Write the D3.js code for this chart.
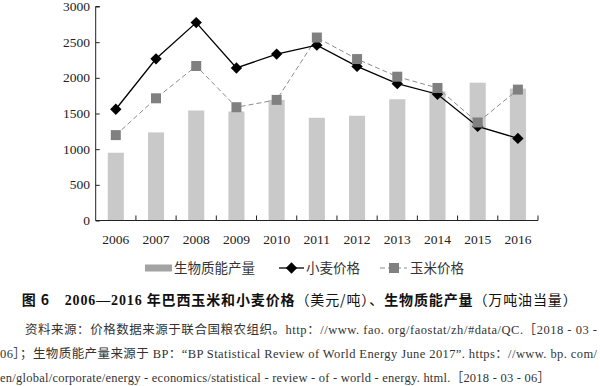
<!DOCTYPE html>
<html>
<head>
<meta charset="utf-8">
<script src="https://cdn.jsdelivr.net/npm/d3@7"></script>
<style>
  body { margin: 0; background: #fff; }
  svg { display: block; }
  .num { font-family: "Liberation Serif", "Noto Sans CJK SC", serif; }
  .cjk { font-family: "Liberation Serif", "Noto Sans CJK SC", sans-serif; }
</style>
</head>
<body>
<div id="chart"></div>
<script>
var years = ["2006", "2007", "2008", "2009", "2010", "2011", "2012", "2013", "2014", "2015", "2016"],
    biomass = [950, 1235, 1542, 1528, 1691, 1440, 1468, 1700, 1811, 1932, 1849],
    wheat = [1560, 2267, 2774, 2138, 2333, 2458, 2160, 1918, 1770, 1319, 1151],
    corn = [1197, 1713, 2166, 1588, 1691, 2565, 2263, 2016, 1858, 1374, 1835],
    yTicks = [0, 500, 1000, 1500, 2000, 2500, 3000],
    legendNames = ["生物质能产量", "小麦价格", "玉米价格"];

var W = 600, H = 386;
var plot = { left: 95.7, right: 538, top: 6.5, bottom: 220.5 };

var svg = d3.select("#chart").append("svg")
    .attr("width", W)
    .attr("height", H);

var x = d3.scaleBand()
    .domain(years)
    .range([plot.left, plot.right])
    .paddingInner(0.6)
    .paddingOuter(0.3);

var y = d3.scaleLinear()
    .domain([0, 3000])
    .range([plot.bottom, plot.top]);

var cx = function(d) { return x(d) + x.bandwidth() / 2; };

// bars
svg.selectAll(".bar")
    .data(years)
    .enter().append("rect")
    .attr("class", "bar")
    .attr("x", function(d) { return x(d); })
    .attr("y", function(d, i) { return y(biomass[i]); })
    .attr("width", x.bandwidth())
    .attr("height", function(d, i) { return y(0) - y(biomass[i]); })
    .style("fill", "#c9c9c9");

// axes
var yAxis = d3.axisRight(y).tickValues(yTicks).tickSize(4).tickFormat("");
var ya = svg.append("g")
    .attr("transform", "translate(" + plot.left + ",0)")
    .call(yAxis);
ya.select(".domain").attr("d", "M4," + plot.top + "H0V" + plot.bottom + "H4");
ya.selectAll("line").attr("stroke", "#222");
ya.select(".domain").attr("stroke", "#222");

svg.selectAll(".ylab")
    .data(yTicks)
    .enter().append("text")
    .attr("class", "ylab num")
    .attr("x", 90)
    .attr("y", function(d) { return y(d) + 4.5; })
    .attr("text-anchor", "end")
    .style("font-size", "13.5px")
    .style("fill", "#222")
    .text(function(d) { return d; });

svg.append("line")
    .attr("x1", plot.left).attr("x2", plot.right)
    .attr("y1", plot.bottom).attr("y2", plot.bottom)
    .attr("stroke", "#222");

svg.selectAll(".xtick")
    .data(years)
    .enter().append("line")
    .attr("class", "xtick")
    .attr("x1", function(d) { return cx(d) + x.step() / 2; })
    .attr("x2", function(d) { return cx(d) + x.step() / 2; })
    .attr("y1", plot.bottom)
    .attr("y2", plot.bottom - 5)
    .attr("stroke", "#222");

svg.selectAll(".xlab")
    .data(years)
    .enter().append("text")
    .attr("class", "xlab num")
    .attr("x", cx)
    .attr("y", 244)
    .attr("text-anchor", "middle")
    .style("font-size", "13.5px")
    .style("fill", "#222")
    .text(function(d) { return d; });

// lines
var line = function(vals) {
    return d3.line()
        .x(function(d) { return cx(d); })
        .y(function(d, i) { return y(vals[i]); })(years);
};

svg.append("path")
    .attr("d", line(corn))
    .attr("fill", "none")
    .attr("stroke", "#8c8c8c")
    .attr("stroke-width", 1)
    .attr("stroke-dasharray", "5,3");

svg.append("path")
    .attr("d", line(wheat))
    .attr("fill", "none")
    .attr("stroke", "#000")
    .attr("stroke-width", 1.3);

var diamond = d3.symbol(d3.symbolSquare, 64);
var square = d3.symbol(d3.symbolSquare, 100);

svg.selectAll(".wdot")
    .data(years)
    .enter().append("path")
    .attr("class", "wdot")
    .attr("d", diamond)
    .attr("transform", function(d, i) { return "translate(" + cx(d) + "," + y(wheat[i]) + ") rotate(45)"; })
    .style("fill", "#000");

svg.selectAll(".cdot")
    .data(years)
    .enter().append("path")
    .attr("class", "cdot")
    .attr("d", square)
    .attr("transform", function(d, i) { return "translate(" + cx(d) + "," + y(corn[i]) + ")"; })
    .style("fill", "#808080");

// legend
var lg = svg.append("g");
lg.append("rect")
    .attr("x", 145).attr("y", 264.5)
    .attr("width", 27).attr("height", 7)
    .style("fill", "#a3a3a3");
lg.append("line")
    .attr("x1", 279).attr("x2", 304).attr("y1", 268).attr("y2", 268)
    .attr("stroke", "#000").attr("stroke-width", 1.3);
lg.append("path")
    .attr("d", diamond)
    .attr("transform", "translate(291.5,268) rotate(45)")
    .style("fill", "#000");
lg.append("line")
    .attr("x1", 380).attr("x2", 407).attr("y1", 268).attr("y2", 268)
    .attr("stroke", "#8c8c8c").attr("stroke-dasharray", "5,3");
lg.append("path")
    .attr("d", square)
    .attr("transform", "translate(394,268)")
    .style("fill", "#808080");

lg.selectAll(".ltext")
    .data(legendNames)
    .enter().append("text")
    .attr("class", "ltext cjk")
    .attr("x", function(d, i) { return [174, 306, 410][i]; })
    .attr("y", 273)
    .style("font-size", "13.5px")
    .style("fill", "#333")
    .text(function(d) { return d; });

// caption
var cap = svg.append("text")
    .attr("class", "cjk")
    .attr("x", 21.7)
    .attr("y", 305)
    .attr("textLength", 555)
    .attr("lengthAdjust", "spacing")
    .style("font-size", "14px")
    .style("fill", "#111");
var capParts = [
    ["图 6　", 700, "Noto Sans CJK SC"],
    ["2006—2016", 700, "Liberation Serif"],
    [" 年巴西玉米和小麦价格", 700, "Noto Sans CJK SC"],
    ["（美元/吨）、", 400, "Noto Sans CJK SC"],
    ["生物质能产量", 700, "Noto Sans CJK SC"],
    ["（万吨油当量）", 400, "Noto Sans CJK SC"]
];
cap.selectAll("tspan")
    .data(capParts)
    .enter().append("tspan")
    .style("font-weight", function(d) { return d[1]; })
    .style("font-family", function(d) { return d[2]; })
    .text(function(d) { return d[0]; });

// source notes
var notes = [
    ["资料来源：价格数据来源于联合国粮农组织。http：//www. fao. org/faostat/zh/#data/QC.［2018 - 03 -", 25, 334, 572],
    ["06］；生物质能产量来源于 BP：“BP Statistical Review of World Energy June 2017”. https：//www. bp. com/", 0, 358, 597],
    ["en/global/corporate/energy - economics/statistical - review - of - world - energy. html.［2018 - 03 - 06］", 0, 382, 550]
];
svg.selectAll(".note")
    .data(notes)
    .enter().append("text")
    .attr("class", "note cjk")
    .attr("x", function(d) { return d[1]; })
    .attr("y", function(d) { return d[2]; })
    .attr("textLength", function(d) { return d[3]; })
    .attr("lengthAdjust", "spacing")
    .style("font-size", "12.5px")
    .style("fill", "#333")
    .text(function(d) { return d[0]; });
</script>
</body>
</html>
